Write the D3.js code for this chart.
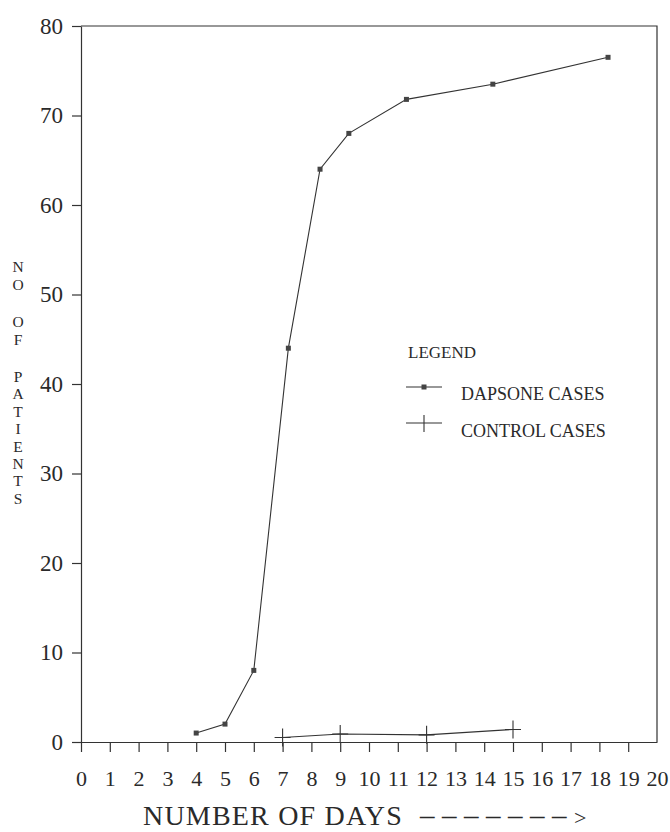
<!DOCTYPE html>
<html>
<head>
<meta charset="utf-8">
<script src="https://cdn.jsdelivr.net/npm/d3@7"></script>
<style>
  body { margin: 0; background: #fff; }
  text { font-family: "Liberation Serif", "DejaVu Serif", serif; fill: #2a2a2a; }
</style>
</head>
<body>
<svg id="chart" width="670" height="832"></svg>
<script>
// values
const dapsoneDays = [4, 5, 6, 7.2, 8.3, 9.3, 11.3, 14.3, 18.3];
const dapsonePatients = [1, 2, 8, 44, 64, 68, 71.8, 73.5, 76.5];
const controlDays = [7, 9, 12, 15];
const controlPatients = [0.5, 0.9, 0.8, 1.4];
const dayTicks = d3.range(0, 21);
const patientTicks = [0, 10, 20, 30, 40, 50, 60, 70, 80];
const yTitle = "NO OF PATIENTS";
const xTitle = "NUMBER OF DAYS";
const xArrowDashes = "–––––––";
const xArrowHead = ">";
const legendTitle = "LEGEND";
const seriesNames = ["DAPSONE CASES", "CONTROL CASES"];

const ink = "#333";
const svg = d3.select("#chart");

const x = d3.scaleLinear().domain([0, 20]).range([81, 657]);
const y = d3.scaleLinear().domain([0, 80]).range([742, 26]);

// x axis
const xAxis = svg.append("g")
  .attr("transform", `translate(0,${y(0)})`)
  .call(d3.axisBottom(x).tickValues(dayTicks).tickFormat(d3.format("d"))
    .tickSize(10).tickSizeOuter(0).tickPadding(18));
xAxis.selectAll("text").style("font-size", "22px").attr("fill", "#2a2a2a");
xAxis.selectAll(".tick").filter(d => d === 20).select("line").remove();

// y axis
const yAxis = svg.append("g")
  .attr("transform", `translate(${x(0)},0)`)
  .call(d3.axisLeft(y).tickValues(patientTicks).tickFormat(d3.format("d"))
    .tickSize(9).tickSizeOuter(0).tickPadding(9));
yAxis.selectAll("text").style("font-size", "23px").attr("fill", "#2a2a2a");

svg.selectAll(".domain, .tick line").attr("stroke", ink).attr("stroke-width", 1.2);

// frame top and right
svg.append("path")
  .attr("d", `M${x(0)},${y(80)}H${x(20)}V${y(0)}`)
  .attr("fill", "none").attr("stroke", ink).attr("stroke-width", 1.2);

// series lines
const line = d3.line().x(d => x(d[0])).y(d => y(d[1]));
const dapsone = d3.zip(dapsoneDays, dapsonePatients);
const control = d3.zip(controlDays, controlPatients);

svg.append("path").datum(dapsone).attr("d", line)
  .attr("fill", "none").attr("stroke", ink).attr("stroke-width", 1.1);
svg.selectAll(".dmark").data(dapsone).enter().append("rect")
  .attr("class", "dmark")
  .attr("x", d => x(d[0]) - 2.5).attr("y", d => y(d[1]) - 2.5)
  .attr("width", 5).attr("height", 5).attr("fill", "#444");

svg.append("path").datum(control).attr("d", line)
  .attr("fill", "none").attr("stroke", ink).attr("stroke-width", 1.1);
svg.selectAll(".cmark").data(control).enter().append("path")
  .attr("class", "cmark")
  .attr("d", d => `M${x(d[0]) - 8},${y(d[1])}h16M${x(d[0])},${y(d[1]) - 9}v18`)
  .attr("stroke", ink).attr("stroke-width", 1.1);

// legend
svg.append("text").attr("x", 408).attr("y", 358)
  .style("font-size", "17px").text(legendTitle);
const legendRows = [387, 423];
seriesNames.forEach((name, i) => {
  const ly = legendRows[i];
  svg.append("line").attr("x1", 406).attr("x2", 442).attr("y1", ly).attr("y2", ly)
    .attr("stroke", ink).attr("stroke-width", 1.1);
  if (i === 0) {
    svg.append("rect").attr("x", 421.5).attr("y", ly - 2.5)
      .attr("width", 5).attr("height", 5).attr("fill", "#444");
  } else {
    svg.append("line").attr("x1", 424).attr("x2", 424).attr("y1", ly - 8).attr("y2", ly + 9)
      .attr("stroke", ink).attr("stroke-width", 1.1);
  }
  svg.append("text").attr("x", 461).attr("y", ly + (i === 0 ? 13 : 14))
    .style("font-size", "18px").text(name);
});

// y title, letters stacked vertically
let ty = 267;
const yt = svg.append("text").attr("text-anchor", "middle").style("font-size", "15.5px");
yTitle.split("").forEach(ch => {
  if (ch === " ") { ty += 20; return; }
  yt.append("tspan").attr("x", 18).attr("y", ty).attr("dy", "0.35em").text(ch);
  ty += 17.4;
});

// x title
svg.append("text").attr("x", 143).attr("y", 825)
  .style("font-size", "28px").style("letter-spacing", "1.2px").text(xTitle);
const arrow = svg.append("text").attr("x", 420).attr("y", 825);
arrow.append("tspan").style("font-size", "29px").style("letter-spacing", "7.5px").text(xArrowDashes);
arrow.append("tspan").style("font-size", "22px").text(xArrowHead);
</script>
</body>
</html>
